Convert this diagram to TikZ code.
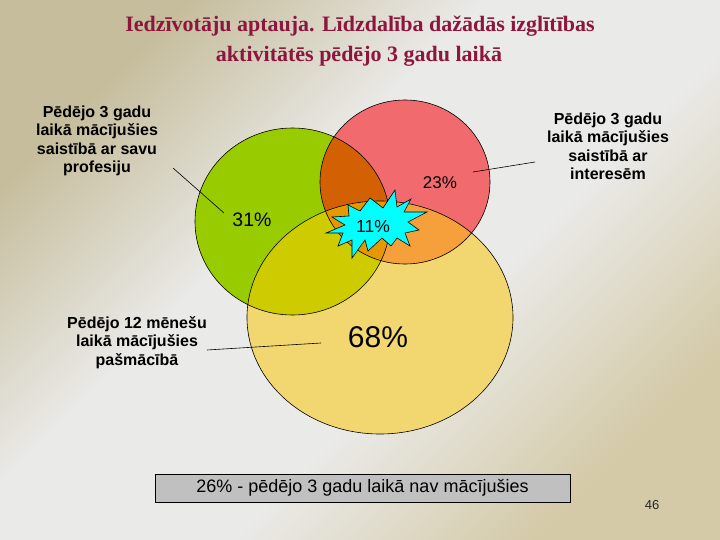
\documentclass[tikz,border=0pt]{standalone}
\usepackage{fontspec}
\setmainfont{Liberation Serif}
\newfontfamily\arialf{Liberation Sans}
\definecolor{bgtanA}{RGB}{198,189,156}
\definecolor{bgtanB}{RGB}{212,202,168}
\definecolor{bggray}{RGB}{234,234,232}
\definecolor{titlec}{RGB}{140,22,62}
\definecolor{greenc}{RGB}{153,204,0}
\definecolor{redc}{RGB}{241,106,110}
\definecolor{yellowc}{RGB}{242,215,112}
\definecolor{gyc}{RGB}{206,204,0}
\definecolor{grc}{RGB}{212,96,4}
\definecolor{ryc}{RGB}{245,160,58}
\definecolor{allc}{RGB}{230,152,0}
\definecolor{boxc}{RGB}{192,192,192}
\definecolor{starc}{RGB}{0,255,255}
\pgfdeclarehorizontalshading{bgshade}{100bp}{color(0bp)=(bgtanA); color(25bp)=(bgtanA); color(42bp)=(bggray); color(58bp)=(bggray); color(75bp)=(bgtanB); color(100bp)=(bgtanB)}
\tikzset{
  venn/.style={draw=black, line width=0.6pt},
  leader/.style={draw=black, line width=0.6pt},
  titlestyle/.style={font=\bfseries\fontsize{22}{30}\selectfont, text=titlec, inner sep=0pt},
  lbl/.style={font=\arialf\bfseries\fontsize{16}{18.5}\selectfont, align=center, inner sep=0pt},
  pct/.style={font=\arialf\fontsize{#1}{#1}\selectfont, inner sep=0pt},
  starstyle/.style={fill=starc, draw=black, line width=0.6pt, line join=miter},
  boxstyle/.style={fill=boxc, draw=black, line width=0.9pt, minimum width=415pt, minimum height=28pt, inner sep=0pt, font=\arialf\fontsize{18}{20}\selectfont}
}
\begin{document}
\begin{tikzpicture}[x=1pt,y=-1pt]
\shade[shading=bgshade, shading angle=-45] (0,0) rectangle (720,540);
\useasboundingbox (0,0) rectangle (720,540);

\coordinate (cg) at (292.5,221.5);
\coordinate (cr) at (405,182);
\coordinate (cy) at (380,317.5);

\fill[yellowc] (cy) ellipse [x radius=133pt, y radius=116.5pt];
\fill[greenc] (cg) ellipse [x radius=97.5pt, y radius=93.5pt];
\fill[redc] (cr) ellipse [x radius=85pt, y radius=82pt];
\begin{scope}
  \clip (cg) ellipse [x radius=97.5pt, y radius=93.5pt];
  \fill[gyc] (cy) ellipse [x radius=133pt, y radius=116.5pt];
  \fill[grc] (cr) ellipse [x radius=85pt, y radius=82pt];
\end{scope}
\begin{scope}
  \clip (cr) ellipse [x radius=85pt, y radius=82pt];
  \fill[ryc] (cy) ellipse [x radius=133pt, y radius=116.5pt];
\end{scope}
\begin{scope}
  \clip (cg) ellipse [x radius=97.5pt, y radius=93.5pt];
  \clip (cr) ellipse [x radius=85pt, y radius=82pt];
  \fill[allc] (cy) ellipse [x radius=133pt, y radius=116.5pt];
\end{scope}
\draw[venn] (cy) ellipse [x radius=133pt, y radius=116.5pt];
\draw[venn] (cg) ellipse [x radius=97.5pt, y radius=93.5pt];
\draw[venn] (cr) ellipse [x radius=85pt, y radius=82pt];

% starburst
\draw[starstyle] (395,190) -- (397,207) -- (411,199) -- (404,212) -- (427,212) -- (408,222)
  -- (419,230) -- (405,233) -- (410,246) -- (397,238) -- (391,246) -- (382,238)
  -- (368,251) -- (365,240) -- (352,258) -- (352,240) -- (338,246) -- (343,233)
  -- (326,233) -- (345,225) -- (332,217) -- (349,216) -- (348,205) -- (360,211)
  -- (370,198) -- (383,208) -- cycle;

% title
\node[titlestyle, anchor=base] (t1) at (360,32) {Iedzīvotāju aptauja. Līdzdalība dažādās izglītības};
\node[titlestyle, anchor=base] (t2) at (359,62) {aktivitātēs pēdējo 3 gadu laikā};

% percentages
\node[pct=19.5] (p31) at (252,220) {31\%};
\node[pct=17] (p23) at (440,183) {23\%};
\node[pct=17.5] (p11) at (373,226) {11\%};
\node[pct=30] (p68) at (378,337) {68\%};

% labels (base = last line's baseline)
\node[lbl, anchor=base] (lprof) at (97,173) {Pēdējo 3 gadu\\laikā mācījušies\\saistībā ar savu\\profesiju};
\node[lbl, anchor=base] (lint) at (608,180) {Pēdējo 3 gadu\\laikā mācījušies\\saistībā ar\\interesēm};
\node[lbl, anchor=base] (lself) at (137,365) {Pēdējo 12 mēnešu\\laikā mācījušies\\pašmācībā};

% leaders
\coordinate (a1) at (173,168);
\coordinate (a2) at (224,213);
\coordinate (b1) at (473,172);
\coordinate (b2) at (535,162);
\coordinate (c1) at (207,350);
\coordinate (c2) at (321,343);
\draw[leader] (a1) -- (a2);
\draw[leader] (b1) -- (b2);
\draw[leader] (c1) -- (c2);

% bottom box
\node[boxstyle] (nobox) at (362.5,488) {26\% - pēdējo 3 gadu laikā nav mācījušies};

% page number
\node[font=\arialf\fontsize{13}{15}\selectfont, anchor=base, inner sep=0pt, text=black!85] (pg) at (652,509) {46};
\end{tikzpicture}
\end{document}
